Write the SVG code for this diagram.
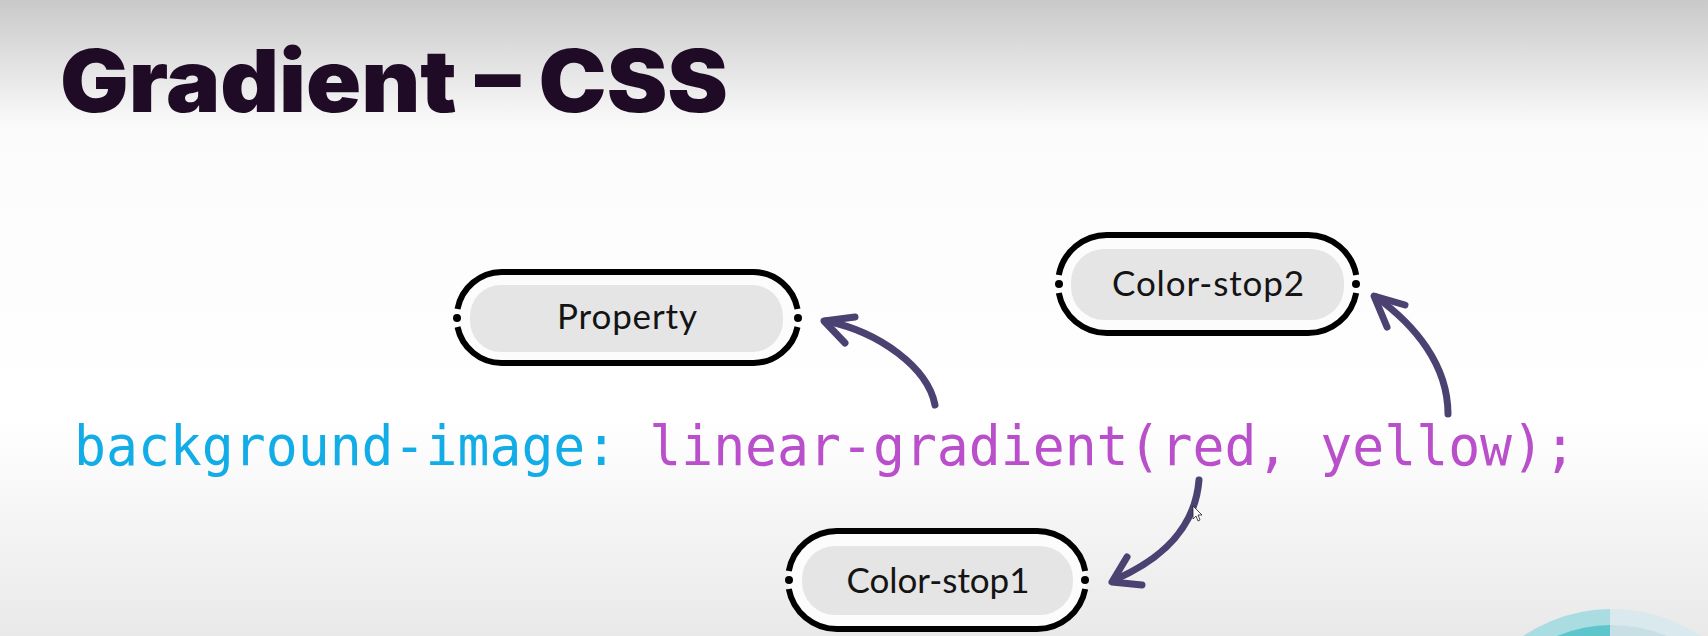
<svg xmlns="http://www.w3.org/2000/svg" width="1708" height="636" viewBox="0 0 1708 636">
  <defs>
    <linearGradient id="bg" x1="0" y1="0" x2="0" y2="1">
      <stop offset="0" stop-color="#c9c9c9"/>
      <stop offset="0.2" stop-color="#fbfbfb"/>
      <stop offset="0.66" stop-color="#ffffff"/>
      <stop offset="1" stop-color="#e9e9e9"/>
    </linearGradient>
    <clipPath id="leftHalf"><rect x="0" y="0" width="1610" height="636"/></clipPath>
    <clipPath id="rightHalf"><rect x="1610" y="0" width="98" height="636"/></clipPath>
  </defs>
  <style>
    .title { font-family: Inter, "Liberation Sans", sans-serif; font-weight: 900; font-size: 86px; fill: #200b26; }
    .code { font-family: "DejaVu Sans Mono", "Liberation Mono", monospace; font-size: 56px; }
    .prop { fill: #12ade6; }
    .val { fill: #b94fca; }
    .ring { fill: none; stroke: #000; stroke-width: 6; stroke-linecap: butt; }
    .halo { fill: #fcfcfc; stroke: none; }
    .pad { fill: #e5e5e5; }
    .dot { fill: #000; }
    .label { font-family: Lato, "Noto Sans", sans-serif; font-size: 35px; fill: #141414; text-anchor: middle; }
    .link { fill: none; stroke: #4b4272; stroke-width: 7; stroke-linecap: round; stroke-linejoin: round; }
  </style>

  <!-- backdrop -->
  <rect x="0" y="0" width="1708" height="636" fill="url(#bg)"/>

  <!-- decorative disc, bottom right -->
  <g id="corner-disc">
    <g clip-path="url(#leftHalf)">
      <circle cx="1612" cy="769" r="160" fill="#a9dde1"/>
      <circle cx="1612" cy="769" r="144" fill="#5fc5cd"/>
    </g>
    <g clip-path="url(#rightHalf)">
      <circle cx="1612" cy="769" r="160" fill="#d9e9ee"/>
      <circle cx="1612" cy="769" r="144" fill="#c9dfe6"/>
    </g>
  </g>

  <!-- heading -->
  <text class="title" x="60" y="112" textLength="668" lengthAdjust="spacingAndGlyphs">Gradient – CSS</text>

  <!-- CSS declaration -->
  <text class="code" x="74" y="465" textLength="1502" lengthAdjust="spacingAndGlyphs"><tspan class="prop">background-image:</tspan><tspan class="val"> linear-gradient(red, yellow);</tspan></text>

  <!-- Property -->
  <g id="node-property">
    <rect class="halo" x="456" y="272" width="343" height="91" rx="45.5"/>
    <path class="ring" d="M457.5,309 A45.5,45.5 0 0 1 501.5,272 L753.5,272 A45.5,45.5 0 0 1 797.5,309"/>
    <path class="ring" d="M457.5,327 A45.5,45.5 0 0 0 501.5,363 L753.5,363 A45.5,45.5 0 0 0 797.5,327"/>
    <circle class="dot" cx="457" cy="318" r="4"/>
    <circle class="dot" cx="798" cy="318" r="4"/>
    <rect class="pad" x="470" y="285" width="313" height="67" rx="31"/>
    <text class="label" x="627" y="329" textLength="140">Property</text>
  </g>

  <!-- Color-stop2 -->
  <g id="node-color-stop2">
    <rect class="halo" x="1058" y="235" width="299" height="98" rx="49"/>
    <path class="ring" d="M1058.8,275 A49,49 0 0 1 1107,235 L1308,235 A49,49 0 0 1 1356.2,275"/>
    <path class="ring" d="M1058.8,293 A49,49 0 0 0 1107,333 L1308,333 A49,49 0 0 0 1356.2,293"/>
    <circle class="dot" cx="1059" cy="284" r="4"/>
    <circle class="dot" cx="1356" cy="284" r="4"/>
    <rect class="pad" x="1071" y="249" width="273" height="71" rx="33"/>
    <text class="label" x="1208" y="296" textLength="192">Color-stop2</text>
  </g>

  <!-- Color-stop1 -->
  <g id="node-color-stop1">
    <rect class="halo" x="788" y="531" width="298" height="98" rx="49"/>
    <path class="ring" d="M788.8,571 A49,49 0 0 1 837,531 L1037,531 A49,49 0 0 1 1085.2,571"/>
    <path class="ring" d="M788.8,589 A49,49 0 0 0 837,629 L1037,629 A49,49 0 0 0 1085.2,589"/>
    <circle class="dot" cx="789" cy="580" r="4"/>
    <circle class="dot" cx="1085" cy="580" r="4"/>
    <rect class="pad" x="802" y="546" width="271" height="69" rx="33"/>
    <text class="label" x="938" y="593" textLength="183">Color-stop1</text>
  </g>

  <!-- hand-drawn pointers -->
  <g id="connectors">
    <path class="link" d="M935,405 C928,368 880,332 826,321"/>
    <path class="link" d="M855,317 L824,321 L845,343"/>
    <path class="link" d="M1448,414 C1448,365 1415,325 1376,297"/>
    <path class="link" d="M1405,305 L1374,296 L1387,327"/>
    <path class="link" d="M1199,480 C1195,530 1160,560 1114,580"/>
    <path class="link" d="M1127,557 L1112,582 L1142,585"/>
  </g>

  <!-- mouse pointer -->
  <path d="M1193,506 L1193,519 L1196,516 L1198,521 L1200,520 L1198,515 L1202,515 Z" fill="#ffffff" stroke="#222" stroke-width="0.8" stroke-linejoin="round"/>
</svg>
